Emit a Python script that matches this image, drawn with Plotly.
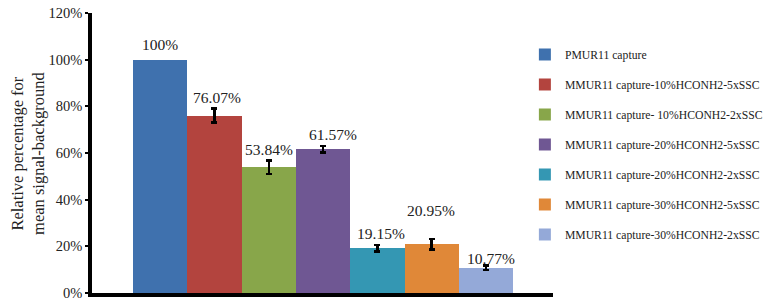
import plotly.graph_objects as go

series_names = [
    "PMUR11 capture",
    "MMUR11 capture-10%HCONH2-5xSSC",
    "MMUR11 capture- 10%HCONH2-2xSSC",
    "MMUR11 capture-20%HCONH2-5xSSC",
    "MMUR11 capture-20%HCONH2-2xSSC",
    "MMUR11 capture-30%HCONH2-5xSSC",
    "MMUR11 capture-30%HCONH2-2xSSC",
]
values = [100, 76.07, 53.84, 61.57, 19.15, 20.95, 10.77]
errors = [0, 3.1, 2.9, 1.4, 1.4, 2.3, 1.0]
value_labels = ["100%", "76.07%", "53.84%", "61.57%", "19.15%", "20.95%", "10.77%"]
colors = ["#3F71AE", "#B3443E", "#88A64A", "#6F5793", "#3497B3", "#E08838", "#94A9D8"]
label_dy = [15, 11, 11, 12, 12, 28, 7]
label_dx = [0, 3, 0, 10, 4, -1, 5]
y_ticks = [0, 20, 40, 60, 80, 100, 120]
y_tick_labels = ["0%", "20%", "40%", "60%", "80%", "100%", "120%"]

FONT = "Liberation Serif"

fig = go.Figure()
n = len(values)
for i in range(n):
    fig.add_trace(go.Bar(
        x=[""], y=[values[i]], name=series_names[i], legendgroup=series_names[i],
        marker=dict(color=colors[i], line=dict(width=0)),
        error_y=dict(type="data", array=[errors[i]], visible=errors[i] > 0,
                     color="black", thickness=2.5, width=3),
    ))
    fig.add_annotation(
        x=-0.5 + (i + 0.5) / n, y=values[i] + errors[i], xref="x", yref="y",
        text=value_labels[i], showarrow=False, xanchor="center", yanchor="middle",
        yshift=label_dy[i], xshift=label_dx[i],
        font=dict(family=FONT, size=15.5, color="#222"),
    )

fig.add_annotation(
    x=-0.139, y=0.5, xref="paper", yref="paper", xanchor="center", yanchor="middle",
    text="Relative percentage for<br>mean signal-background",
    textangle=-90, showarrow=False,
    font=dict(family=FONT, size=16.5, color="#222"),
)

fig.update_layout(
    width=766, height=304,
    margin=dict(l=92, r=213, t=13, b=11, autoexpand=False),
    paper_bgcolor="white", plot_bgcolor="white",
    barmode="group", bargap=0, bargroupgap=0,
    showlegend=True,
    legend=dict(x=0.939, y=0.9036, xanchor="left", yanchor="top",
                font=dict(family=FONT, size=11.7, color="#222"),
                tracegroupgap=11, bgcolor="rgba(0,0,0,0)"),
    font=dict(family=FONT, color="#222"),
    xaxis=dict(range=[-0.608, 0.605], showticklabels=False, ticks="",
               showline=True, linecolor="black", linewidth=3.5,
               showgrid=False, zeroline=False),
    yaxis=dict(range=[0, 120], tickmode="array", tickvals=y_ticks, ticktext=y_tick_labels,
               showline=True, linecolor="black", linewidth=3.5,
               ticks="outside", ticklen=3, tickwidth=2, tickcolor="black",
               ticklabeloverflow="allow",
               tickfont=dict(family=FONT, size=14.5, color="#222"),
               showgrid=False, zeroline=False),
)

fig.write_html(
    "out.html",
    config={"displayModeBar": False},
    post_script="document.body.style.margin='0';document.body.style.overflow='hidden';",
)
